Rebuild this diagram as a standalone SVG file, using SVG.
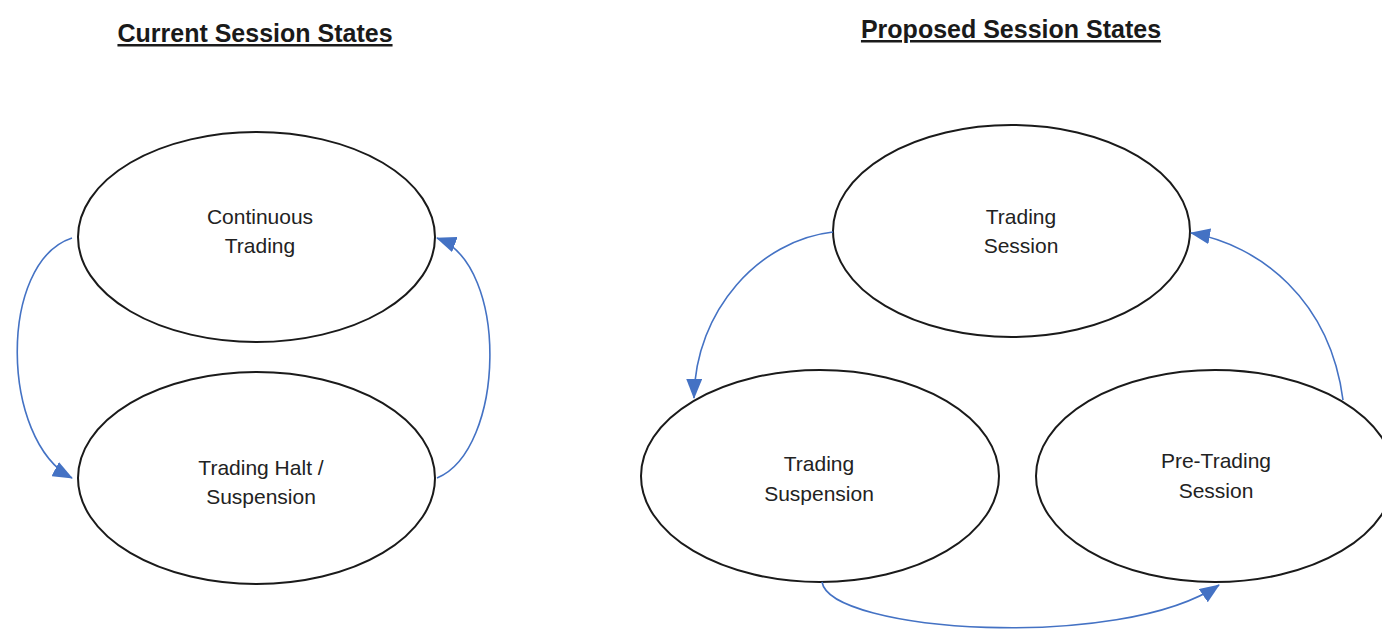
<svg xmlns="http://www.w3.org/2000/svg" width="1382" height="629" viewBox="0 0 1382 629">
<style>
.title{font-family:"Liberation Sans",Arial,sans-serif;font-size:25px;font-weight:bold;fill:#1a1a1a;text-anchor:middle;text-decoration:underline}
.lbl{font-family:"Liberation Sans",Arial,sans-serif;font-size:21px;fill:#222;text-anchor:middle}
.node{fill:#fff;stroke:#1a1a1a;stroke-width:2}
.conn{fill:none;stroke:#4472C4;stroke-width:1.6}
</style>
<defs>
<marker id="arr" viewBox="0 0 20 16" refX="19" refY="8" markerWidth="20" markerHeight="16" markerUnits="userSpaceOnUse" orient="auto">
<path d="M0,0 L20,8 L0,16 Z" fill="#4472C4"/>
</marker>
</defs>
<rect width="1382" height="629" fill="#fff"/>
<text class="title" x="255" y="42">Current Session States</text>
<text class="title" x="1011" y="38">Proposed Session States</text>

<g id="continuous">
<ellipse class="node" cx="256.5" cy="237" rx="178.5" ry="105"/>
<text class="lbl" x="260" y="224">Continuous</text>
<text class="lbl" x="260" y="253">Trading</text>
</g>
<g id="halt">
<ellipse class="node" cx="256.5" cy="478" rx="178.5" ry="106"/>
<text class="lbl" x="261" y="475">Trading Halt /</text>
<text class="lbl" x="261" y="504">Suspension</text>
</g>
<g id="trading-session">
<ellipse class="node" cx="1011.5" cy="231" rx="178.5" ry="106"/>
<text class="lbl" x="1021" y="224">Trading</text>
<text class="lbl" x="1021" y="253">Session</text>
</g>
<g id="trading-suspension">
<ellipse class="node" cx="820" cy="476" rx="179" ry="106"/>
<text class="lbl" x="819" y="471">Trading</text>
<text class="lbl" x="819" y="501">Suspension</text>
</g>
<g id="pre-trading">
<ellipse class="node" cx="1215" cy="476" rx="179" ry="106"/>
<text class="lbl" x="1216" y="468">Pre-Trading</text>
<text class="lbl" x="1216" y="498">Session</text>
</g>

<g id="connectors">
<path class="conn" marker-end="url(#arr)" d="M72,238 C-2,262 0,440 72,478"/>
<path class="conn" marker-end="url(#arr)" d="M437,478 C505,450 510,265 437,238"/>
<path class="conn" marker-end="url(#arr)" d="M833,232 C760,240 695,310 694,398"/>
<path class="conn" marker-end="url(#arr)" d="M1343,400 C1330,300 1260,245 1191,233"/>
<path class="conn" marker-end="url(#arr)" d="M822,582 C830,632 1120,652 1219,585"/>
</g>
</svg>
